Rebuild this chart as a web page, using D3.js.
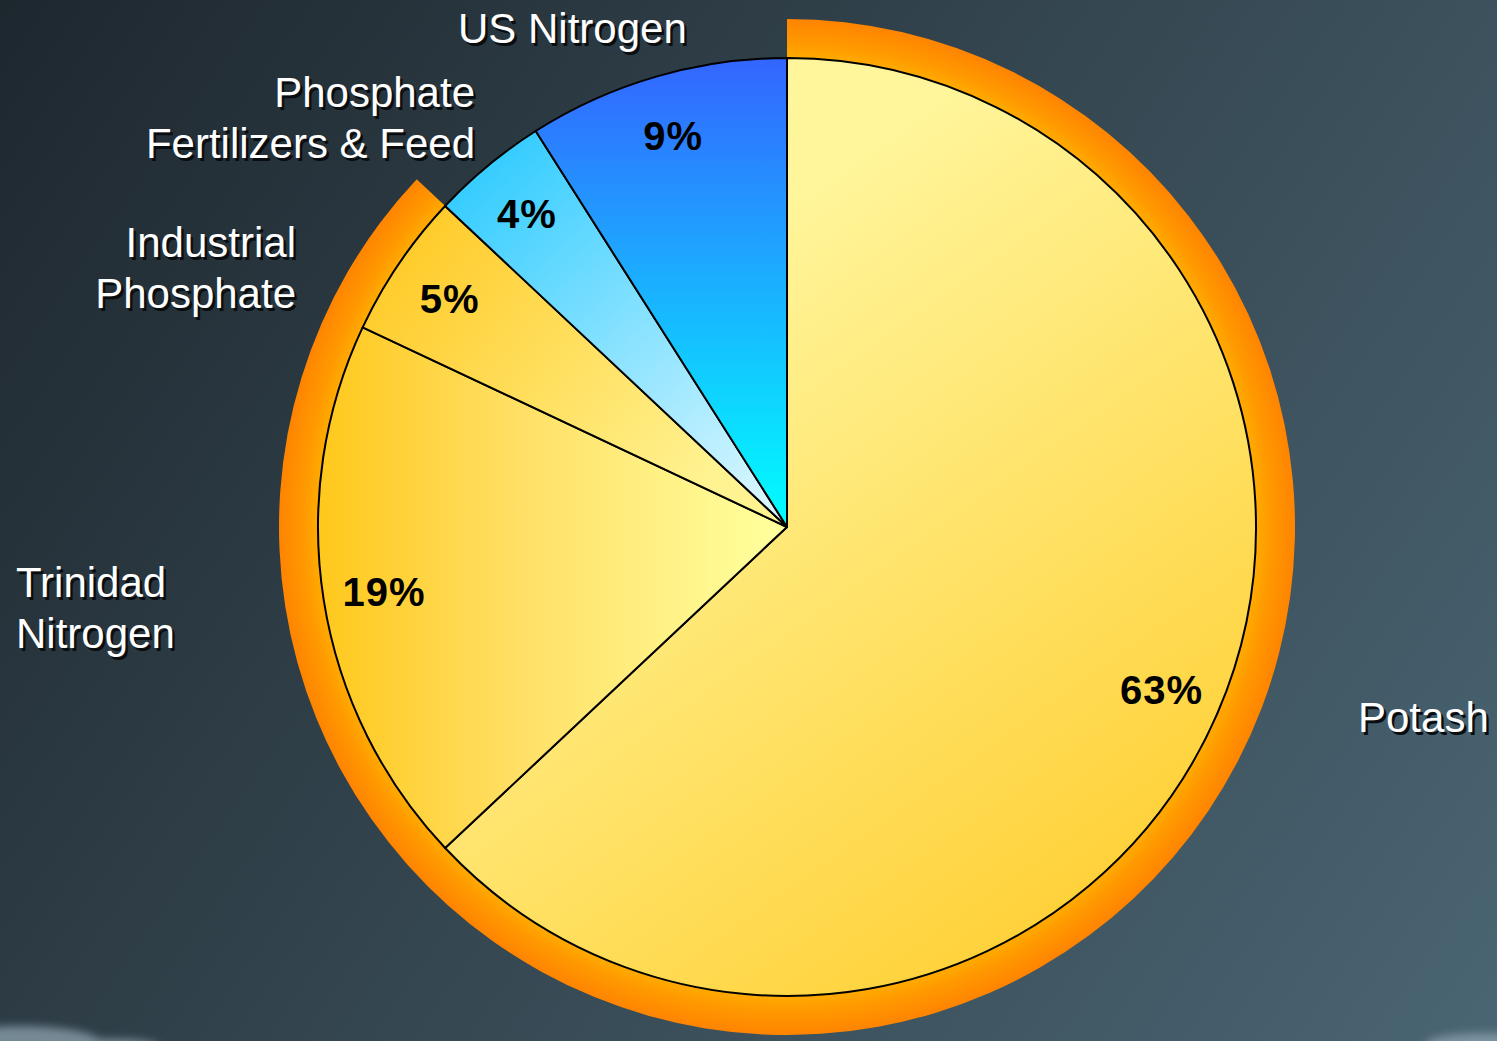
<!DOCTYPE html>
<html>
<head>
<meta charset="utf-8">
<script src="https://cdn.jsdelivr.net/npm/d3@7/dist/d3.min.js"></script>
<style>
  html, body { margin: 0; padding: 0; background: #2c3a43; }
  svg { display: block; }
</style>
</head>
<body>
<svg id="chart" width="1497" height="1041"></svg>
<script>
// Revenue share by business segment
const categories = ["Potash", "Trinidad Nitrogen", "Industrial Phosphate", "Phosphate Fertilizers & Feed", "US Nitrogen"];
const shares = [63, 19, 5, 4, 9];
const shareLabels = ["63%", "19%", "5%", "4%", "9%"];
const nameLines = [["Potash"], ["Trinidad", "Nitrogen"], ["Industrial", "Phosphate"], ["Phosphate", "Fertilizers & Feed"], ["US Nitrogen"]];

const W = 1497, H = 1041;
const cx = 787, cy = 527;
const R = 469, ringOuter = 508, labelR = 408;

// Placement of the segment names around the pie
const nameLayout = [
  { x: 1358, y: 732, anchor: "start" },
  { x: 16, y: 597, anchor: "start" },
  { x: 296, y: 257, anchor: "end" },
  { x: 475, y: 107, anchor: "end" },
  { x: 458, y: 43, anchor: "start" }
];

const svg = d3.select("#chart");
const defs = svg.append("defs");

// Background
const bg = defs.append("linearGradient").attr("id", "bg")
  .attr("gradientUnits", "userSpaceOnUse")
  .attr("x1", 0).attr("y1", 0).attr("x2", W).attr("y2", H);
bg.append("stop").attr("offset", 0).attr("stop-color", "#1e272e");
bg.append("stop").attr("offset", 0.5).attr("stop-color", "#354751");
bg.append("stop").attr("offset", 1).attr("stop-color", "#4a6573");

const blur = defs.append("filter").attr("id", "soft")
  .attr("x", "-50%").attr("y", "-50%").attr("width", "200%").attr("height", "200%");
blur.append("feGaussianBlur").attr("stdDeviation", 4);

svg.append("rect").attr("width", W).attr("height", H).attr("fill", "url(#bg)");

// Faint surf at the bottom corners
const surf = svg.append("g").attr("filter", "url(#soft)").attr("fill", "#8ea3b0").attr("opacity", 0.75);
surf.append("ellipse").attr("cx", 20).attr("cy", 1042).attr("rx", 80).attr("ry", 16);
surf.append("ellipse").attr("cx", 110).attr("cy", 1047).attr("rx", 50).attr("ry", 8);
surf.append("ellipse").attr("cx", 1485).attr("cy", 1045).attr("rx", 60).attr("ry", 12);

// Slice fills, in page coordinates shifted to the pie centre
function linGrad(id, x1, y1, x2, y2, stops) {
  const g = defs.append("linearGradient").attr("id", id)
    .attr("gradientUnits", "userSpaceOnUse")
    .attr("x1", x1 - cx).attr("y1", y1 - cy).attr("x2", x2 - cx).attr("y2", y2 - cy);
  stops.forEach(s => g.append("stop").attr("offset", s[0]).attr("stop-color", s[1]));
  return "url(#" + id + ")";
}
const fills = [
  linGrad("gPotash", 720, 250, 1180, 900, [[0, "#fff59a"], [1, "#ffcf33"]]),
  linGrad("gTrinidad", 320, 0, 770, 0, [[0, "#ffc81c"], [0.45, "#ffe066"], [1, "#ffff9c"]]),
  linGrad("gIndustrial", 380, 230, 700, 480, [[0, "#ffc822"], [1, "#fff290"]]),
  linGrad("gPhosFert", 470, 170, 760, 500, [[0, "#33ccff"], [1, "#d6f6ff"]]),
  linGrad("gUSN", 0, 60, 0, 527, [[0, "#3366ff"], [1, "#00ffff"]])
];

const ringGrad = defs.append("radialGradient").attr("id", "ring")
  .attr("gradientUnits", "userSpaceOnUse")
  .attr("cx", 0).attr("cy", 0).attr("r", ringOuter);
ringGrad.append("stop").attr("offset", 0.9).attr("stop-color", "#ffba00");
ringGrad.append("stop").attr("offset", 0.95).attr("stop-color", "#ff9a00");
ringGrad.append("stop").attr("offset", 1).attr("stop-color", "#ff8400");

const pie = d3.pie().sort(null).value(d => d).startAngle(0).endAngle(2 * Math.PI);
const arcs = pie(shares);

const g = svg.append("g").attr("transform", `translate(${cx},${cy})`);

// Orange rim behind the yellow segments
const rimArc = d3.arc().innerRadius(R - 10).outerRadius(ringOuter);
g.append("path")
  .attr("d", rimArc({ startAngle: arcs[0].startAngle, endAngle: arcs[2].endAngle }))
  .attr("fill", "url(#ring)");

// Slices
const arc = d3.arc().innerRadius(0).outerRadius(R);
g.selectAll("path.slice").data(arcs).join("path")
  .attr("class", "slice")
  .attr("d", arc)
  .attr("fill", (d, i) => fills[i])
  .attr("stroke", "#000")
  .attr("stroke-width", 2)
  .attr("stroke-linejoin", "round");

// Percent labels inside the slices
const labelArc = d3.arc().innerRadius(labelR).outerRadius(labelR);
g.selectAll("text.pct").data(arcs).join("text")
  .attr("class", "pct")
  .attr("x", d => labelArc.centroid(d)[0])
  .attr("y", d => labelArc.centroid(d)[1] + 15)
  .attr("text-anchor", "middle")
  .attr("font-family", "'Liberation Sans', Arial, sans-serif")
  .attr("font-weight", "bold")
  .attr("font-size", 40)
  .attr("letter-spacing", 1)
  .attr("fill", "#000")
  .text((d, i) => shareLabels[i]);

// Segment names with drop shadow
const names = svg.append("g")
  .attr("font-family", "'Liberation Sans', Arial, sans-serif")
  .attr("font-size", 42);
categories.forEach((c, i) => {
  const p = nameLayout[i];
  [["#0a0d10", 2.5], ["#ffffff", 0]].forEach(([col, off]) => {
    const t = names.append("text")
      .attr("text-anchor", p.anchor)
      .attr("fill", col);
    nameLines[i].forEach((line, k) => {
      t.append("tspan")
        .attr("x", p.x + off)
        .attr("y", p.y + off + k * 51)
        .text(line);
    });
  });
});
</script>
</body>
</html>
